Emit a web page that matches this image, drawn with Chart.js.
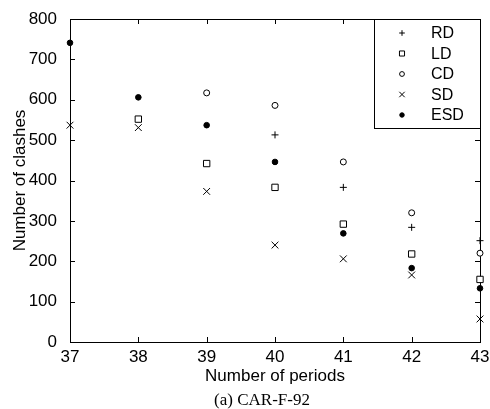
<!DOCTYPE html>
<html>
<head>
<meta charset="utf-8">
<script src="https://cdn.jsdelivr.net/npm/chart.js@4/dist/chart.umd.min.js"></script>
<style>
    html, body { margin: 0; padding: 0; background: #fff; }
    #wrap { position: relative; width: 490px; height: 409px; }
    .caption {
        position: absolute;
        left: 0;
        top: 391px;
        width: 524px;
        text-align: center;
        font: 17px/17px "Liberation Serif", "Times New Roman", serif;
        color: #000;
        white-space: nowrap;
    }
</style>
</head>
<body>
<div id="wrap">
    <canvas id="chart"></canvas>
    <div class="caption">(a) CAR-F-92</div>
</div>
<script>
// ---- Data ----
const periods = [37, 38, 39, 40, 41, 42, 43];
const rd  = [null, null, null, 513, 383, 284, 251];
const ld  = [null, 552, 442, 383, 292, 218, 155];
const cd  = [null, null, 617, 586, 446, 320, 220];
const sd  = [537, 531, 373, 240, 206, 166, 57];
const esd = [741, 606, 537, 446, 269, 183, 133];
const yTicks = [0, 100, 200, 300, 400, 500, 600, 700, 800];

const FONT = '"Liberation Sans", Arial, sans-serif';

function pts(values) {
    return periods
        .map((p, i) => ({ x: p, y: values[i] }))
        .filter(d => d.y !== null);
}

function series(label, values, style, radius, fill) {
    return {
        label: label,
        data: pts(values),
        pointStyle: style,
        pointRadius: radius,
        pointHoverRadius: radius,
        pointBorderWidth: 1,
        pointBorderColor: '#000',
        pointBackgroundColor: fill,
        borderColor: '#000',
        backgroundColor: fill,
        showLine: false,
        clip: false,
    };
}

// ---- Box frame with inward ticks on all four sides ----
const frameTicks = {
    id: 'frameTicks',
    beforeDatasetsDraw(chart) {
        const { ctx, chartArea: a, scales } = chart;
        const len = 5;
        ctx.save();
        ctx.strokeStyle = '#000';
        ctx.lineWidth = 1;
        ctx.beginPath();
        periods.forEach(p => {
            const x = Math.round(scales.x.getPixelForValue(p)) + 0.5;
            ctx.moveTo(x, a.bottom); ctx.lineTo(x, a.bottom - len);
            ctx.moveTo(x, a.top);    ctx.lineTo(x, a.top + len);
        });
        yTicks.forEach(v => {
            const y = Math.round(scales.y.getPixelForValue(v)) + 0.5;
            ctx.moveTo(a.left, y);  ctx.lineTo(a.left + len, y);
            ctx.moveTo(a.right, y); ctx.lineTo(a.right - len, y);
        });
        ctx.stroke();
        ctx.strokeRect(Math.round(a.left) + 0.5, Math.round(a.top) + 0.5,
                       Math.round(a.right - a.left), Math.round(a.bottom - a.top));
        ctx.restore();
    }
};

// ---- Boxed legend in the top-right corner of the plot ----
const boxLegend = {
    id: 'boxLegend',
    afterDraw(chart) {
        const { ctx, chartArea: a } = chart;
        const w = 106, h = 109, rowH = 20.5;
        const left = a.right - w, top = a.top;
        ctx.save();
        ctx.fillStyle = '#fff';
        ctx.fillRect(left, top, w, h);
        ctx.strokeStyle = '#000';
        ctx.lineWidth = 1;
        ctx.strokeRect(Math.round(left) + 0.5, Math.round(top) + 0.5, w, h);
        ctx.font = '16px ' + FONT;
        ctx.textBaseline = 'middle';
        ctx.textAlign = 'left';
        chart.data.datasets.forEach((ds, i) => {
            const y = top + 14 + i * rowH;
            ctx.strokeStyle = '#000';
            ctx.fillStyle = ds.pointBackgroundColor;
            ctx.lineWidth = 1;
            Chart.helpers.drawPoint(ctx, {
                pointStyle: ds.pointStyle,
                radius: ds.pointRadius * 0.8,
                rotation: 0,
                borderWidth: 1,
            }, left + 28, y);
            ctx.fillStyle = '#000';
            ctx.fillText(ds.label, left + 57, y + 1);
        });
        ctx.restore();
    }
};

new Chart(document.getElementById('chart'), {
    type: 'scatter',
    data: {
        datasets: [
            series('RD', rd, 'cross', 3.5, '#fff'),
            series('LD', ld, 'rect', 4.5, '#fff'),
            series('CD', cd, 'circle', 3, '#fff'),
            series('SD', sd, 'crossRot', 4.8, '#fff'),
            series('ESD', esd, 'circle', 2.8, '#000'),
        ]
    },
    options: {
        responsive: true,
        maintainAspectRatio: false,
        animation: false,
        events: [],
        layout: { padding: { top: 19, right: 10, left: 0, bottom: 17 } },
        plugins: {
            legend: { display: false },
            tooltip: { enabled: false },
        },
        scales: {
            x: {
                type: 'linear',
                min: 37,
                max: 43,
                afterBuildTicks: s => { s.ticks = periods.map(v => ({ value: v })); },
                afterFit: s => { s.height = 50; },
                grid: { display: false },
                border: { display: false },
                ticks: {
                    color: '#000',
                    padding: -3,
                    font: { family: FONT, size: 17 },
                    maxRotation: 0,
                },
                title: {
                    display: true,
                    text: 'Number of periods',
                    color: '#000',
                    font: { family: FONT, size: 17 },
                    padding: { top: 0, bottom: 5 },
                }
            },
            y: {
                type: 'linear',
                min: 0,
                max: 800,
                afterBuildTicks: s => { s.ticks = yTicks.map(v => ({ value: v })); },
                afterFit: s => { s.width = 70; },
                grid: { display: false },
                border: { display: false },
                ticks: {
                    color: '#000',
                    padding: 5,
                    font: { family: FONT, size: 17 },
                },
                title: {
                    display: true,
                    text: 'Number of clashes',
                    color: '#000',
                    font: { family: FONT, size: 17 },
                    padding: { top: 10, bottom: 0 },
                }
            }
        }
    },
    plugins: [frameTicks, boxLegend]
});
</script>
</body>
</html>
